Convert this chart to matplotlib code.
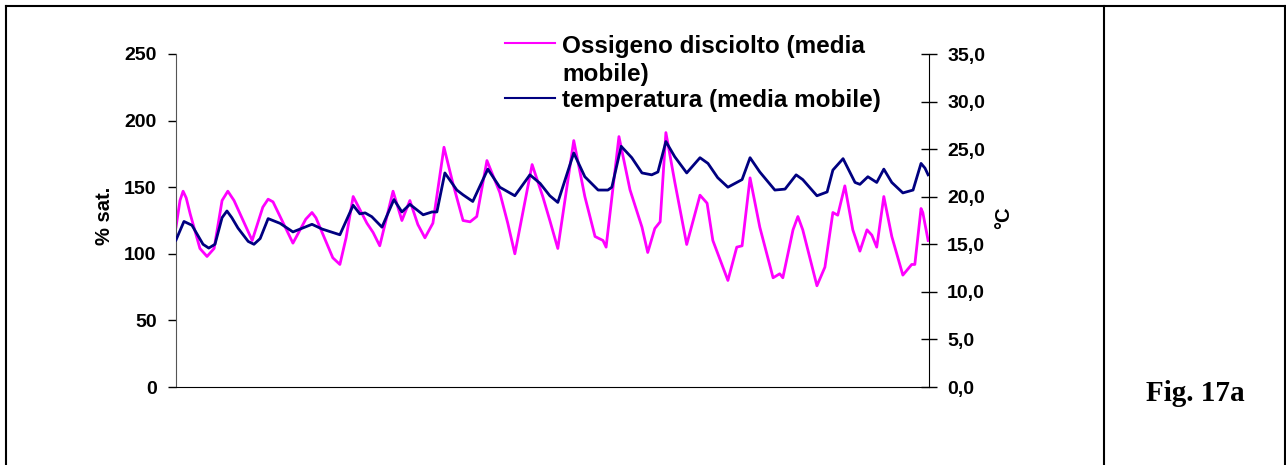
import matplotlib
matplotlib.use('Agg')
import numpy as np
from matplotlib import pyplot as plt
from matplotlib.lines import Line2D

# giorni (asse x senza etichette) e valori
giorni_o2 = [0.00, 0.09, 0.16, 0.23, 0.32, 0.54, 0.70, 0.86, 1.04, 1.17,
             1.31, 1.72, 1.96, 2.08, 2.19, 2.35, 2.64, 2.93, 3.07, 3.16,
             3.54, 3.70, 3.84, 4.00, 4.31, 4.45, 4.60, 4.90, 5.10, 5.28,
             5.46, 5.62, 5.80, 6.05, 6.25, 6.48, 6.64, 6.79, 7.02, 7.31,
             7.49, 7.65, 8.04, 8.28, 8.44, 8.62, 8.98, 9.23, 9.46, 9.64,
             9.71, 10.00, 10.25, 10.52, 10.65, 10.81, 10.93, 11.06, 11.26, 11.53,
             11.83, 11.99, 12.12, 12.46, 12.66, 12.78, 12.96, 13.18, 13.48, 13.63,
             13.70, 13.93, 14.04, 14.15, 14.47, 14.65, 14.83, 14.94, 15.10, 15.28,
             15.44, 15.60, 15.71, 15.82, 15.98, 16.16, 16.41, 16.61, 16.68, 16.82,
             16.86, 16.98]
ossigeno = [120, 140, 147, 142, 130, 104, 98, 104, 140, 147,
            140, 110, 135, 141, 139, 128, 108, 126, 131, 127,
            97, 92, 112, 143, 123, 116, 106, 147, 125, 140,
            122, 112, 123, 180, 153, 125, 124, 128, 170, 146,
            123, 100, 167, 143, 125, 104, 185, 143, 113, 110,
            105, 188, 148, 120, 101, 119, 124, 191, 154, 107,
            144, 138, 110, 80, 105, 106, 157, 120, 82, 85,
            82, 118, 128, 118, 76, 90, 131, 129, 151, 118,
            102, 118, 114, 105, 143, 113, 84, 92, 92, 134,
            131, 110]

giorni_t = [0.00, 0.18, 0.36, 0.61, 0.74, 0.88, 1.04, 1.15, 1.26, 1.40,
            1.63, 1.76, 1.90, 2.08, 2.35, 2.64, 3.07, 3.30, 3.70, 4.00,
            4.15, 4.27, 4.42, 4.65, 4.92, 5.10, 5.28, 5.58, 5.78, 5.89,
            6.07, 6.34, 6.48, 6.70, 7.04, 7.31, 7.65, 7.99, 8.22, 8.44,
            8.62, 8.98, 9.23, 9.53, 9.75, 9.84, 10.05, 10.29, 10.52, 10.74,
            10.88, 11.06, 11.26, 11.53, 11.83, 12.01, 12.23, 12.46, 12.66, 12.78,
            12.96, 13.18, 13.52, 13.75, 14.00, 14.15, 14.47, 14.70, 14.83, 15.06,
            15.33, 15.44, 15.62, 15.82, 15.98, 16.16, 16.41, 16.64, 16.82, 16.91,
            16.98]
temperatura = [15.45, 17.4, 17.0, 15.0, 14.6, 15.0, 17.8, 18.5, 17.8, 16.7,
               15.3, 15.0, 15.6, 17.7, 17.2, 16.3, 17.1, 16.6, 16.0, 19.1,
               18.2, 18.3, 17.9, 16.8, 19.7, 18.4, 19.2, 18.1, 18.4, 18.4,
               22.5, 20.7, 20.2, 19.5, 22.9, 21.0, 20.1, 22.3, 21.4, 20.1,
               19.4, 24.6, 22.1, 20.7, 20.7, 21.0, 25.3, 24.1, 22.5, 22.3,
               22.6, 25.8, 24.2, 22.5, 24.1, 23.5, 22.0, 21.0, 21.5, 21.8,
               24.1, 22.6, 20.7, 20.8, 22.3, 21.8, 20.1, 20.5, 22.8, 24.0,
               21.5, 21.3, 22.1, 21.5, 22.9, 21.5, 20.4, 20.7, 23.5, 23.0,
               22.3]

ticks_sx = [0, 50, 100, 150, 200, 250]
ticks_dx = [0, 5, 10, 15, 20, 25, 30, 35]
etichette_dx = ['0,0', '5,0', '10,0', '15,0', '20,0', '25,0', '30,0', '35,0']

plt.rcParams['font.family'] = ['Liberation Sans', 'DejaVu Sans']
plt.rcParams['font.weight'] = 'bold'

fig = plt.figure(figsize=(12.86, 4.65), dpi=100)
W, H = 1286, 465
ax = fig.add_axes([176 / W, 1 - 387 / H, (929 - 176) / W, (387 - 54) / H])
ax2 = ax.twinx()

ax.plot(giorni_o2, ossigeno, color='#FF00FF', lw=2.0)
ax2.plot(giorni_t, temperatura, color='#000080', lw=2.0)

ax.set_xlim(0, 17)
ax.set_ylim(0, 250)
ax2.set_ylim(0, 35)
ax.set_xticks([])
ax.set_yticks(ticks_sx)
ax2.set_yticks(ticks_dx)
ax2.set_yticklabels(etichette_dx)

ax.tick_params(axis='y', direction='out', length=6, width=1, pad=8, labelsize=14)
ax2.tick_params(axis='y', direction='inout', length=12, width=1, pad=7, labelsize=14)

for a in (ax, ax2):
    a.spines['top'].set_visible(False)
    a.patch.set_visible(False)
ax.spines['right'].set_visible(False)
ax2.spines['left'].set_visible(False)
ax2.spines['bottom'].set_visible(False)
ax.spines['left'].set_color('#555555')
ax.spines['bottom'].set_color('black')
ax2.spines['right'].set_color('black')

fig.text(105 / W, 1 - 216 / H, '% sat.', rotation=90, ha='center', va='center',
         fontsize=14.5, fontweight='bold')
fig.text(1004 / W, 1 - 218 / H, '°C', rotation=90, ha='center', va='center',
         fontsize=14.5, fontweight='bold')

# legenda
fig.add_artist(Line2D([505 / W, 555 / W], [1 - 43 / H, 1 - 43 / H], color='#FF00FF', lw=1.5))
fig.add_artist(Line2D([505 / W, 555 / W], [1 - 98 / H, 1 - 98 / H], color='#000080', lw=1.5))
fig.text(562 / W, 1 - 53 / H, 'Ossigeno disciolto (media', ha='left', va='baseline',
         fontsize=17.5, fontweight='bold')
fig.text(562 / W, 1 - 81 / H, 'mobile)', ha='left', va='baseline',
         fontsize=17.5, fontweight='bold')
fig.text(562 / W, 1 - 107 / H, 'temperatura (media mobile)', ha='left', va='baseline',
         fontsize=17.5, fontweight='bold')

fig.text(1195 / W, 1 - 393 / H, 'Fig. 17a', ha='center', va='center',
         fontsize=21, fontweight='bold', family='Liberation Serif')

# cornice
for xs, ys in [([6, 1285], [6, 6]), ([6, 6], [6, 470]), ([1285, 1285], [6, 470]),
               ([1104, 1104], [6, 470])]:
    fig.add_artist(Line2D([x / W for x in xs], [1 - y / H for y in ys], color='black', lw=1.5))

plt.savefig('out.png', dpi=100)
